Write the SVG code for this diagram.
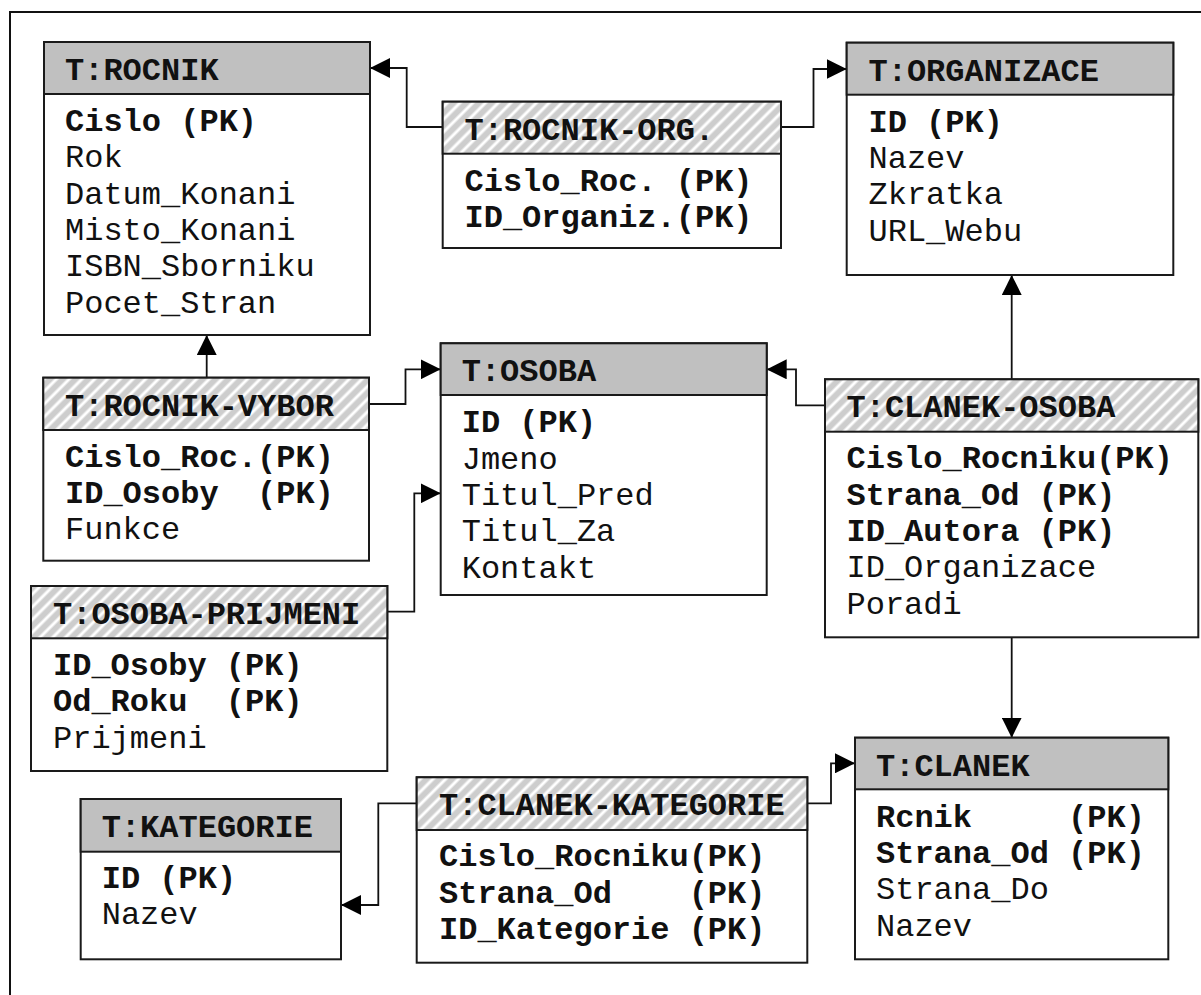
<svg xmlns="http://www.w3.org/2000/svg" width="1201" height="995" viewBox="0 0 1201 995">
<style>
.box{fill:#fff;stroke:#1a1a1a;stroke-width:2}
.hg{fill:#c0c0c0;stroke:#1a1a1a;stroke-width:2}
.hh{fill:url(#hatch);stroke:#1a1a1a;stroke-width:2}
text{font-family:"Liberation Mono","Courier New",monospace;font-size:32px;fill:#111;white-space:pre}
.b{font-weight:bold}
.c{fill:none;stroke:#111;stroke-width:1.8;marker-end:url(#arr)}
</style>
<defs>
<pattern id="hatch" patternUnits="userSpaceOnUse" width="9" height="9" patternTransform="rotate(45)">
<rect width="9" height="9" fill="#cdcdcd"/>
<line x1="2" y1="0" x2="2" y2="9" stroke="#fff" stroke-width="3"/>
</pattern>
<marker id="arr" markerUnits="userSpaceOnUse" markerWidth="20" markerHeight="20" refX="20" refY="10" orient="auto">
<path d="M0,0 L20,10 L0,20 z" fill="#000"/>
</marker>
</defs>
<rect width="1201" height="995" fill="#fff"/>
<path d="M10,995 V12 H1201" fill="none" stroke="#111" stroke-width="2"/>

<g id="connectors">
<path class="c" d="M442.7,127 H406.7 V68 H370"/>
<path class="c" d="M781,127 H813.5 V69 H846.7"/>
<path class="c" d="M206.7,377.7 V335"/>
<path class="c" d="M369,404 H405.5 V369.3 H440.7"/>
<path class="c" d="M387.3,611.7 H414.3 V493.3 H440.7"/>
<path class="c" d="M825,405.3 H796 V369.3 H766.7"/>
<path class="c" d="M1011.7,379.3 V275"/>
<path class="c" d="M1011.7,637.3 V737.7"/>
<path class="c" d="M807.3,803.3 H831 V763.3 H855"/>
<path class="c" d="M416.7,803.3 H378.3 V905 H341"/>
</g>

<g id="rocnik">
<rect class="box" x="44" y="42" width="326" height="293"/>
<rect class="hg" x="44" y="42" width="326" height="52"/>
<text class="b" x="65" y="80">T:ROCNIK</text>
<text class="b" x="65" y="131">Cislo (PK)</text>
<text x="65" y="167.3">Rok</text>
<text x="65" y="203.6">Datum_Konani</text>
<text x="65" y="239.9">Misto_Konani</text>
<text x="65" y="276.2">ISBN_Sborniku</text>
<text x="65" y="312.5">Pocet_Stran</text>
</g>

<g id="rocnik-org">
<rect class="box" x="442.7" y="101.7" width="338.3" height="146.3"/>
<rect class="hh" x="442.7" y="101.7" width="338.3" height="52"/>
<text class="b" x="464.5" y="139.7">T:ROCNIK-ORG.</text>
<text class="b" x="464.5" y="190.7">Cislo_Roc. (PK)</text>
<text class="b" x="464.5" y="227">ID_Organiz.(PK)</text>
</g>

<g id="organizace">
<rect class="box" x="846.7" y="42.7" width="326.6" height="232.3"/>
<rect class="hg" x="846.7" y="42.7" width="326.6" height="52"/>
<text class="b" x="868.5" y="80.7">T:ORGANIZACE</text>
<text class="b" x="868.5" y="131.7">ID (PK)</text>
<text x="868.5" y="168">Nazev</text>
<text x="868.5" y="204.3">Zkratka</text>
<text x="868.5" y="240.6">URL_Webu</text>
</g>

<g id="rocnik-vybor">
<rect class="box" x="43.3" y="377.7" width="325.7" height="183"/>
<rect class="hh" x="43.3" y="377.7" width="325.7" height="52.3"/>
<text class="b" x="65" y="415.7">T:ROCNIK-VYBOR</text>
<text class="b" x="65" y="466.7">Cislo_Roc.(PK)</text>
<text class="b" x="65" y="503">ID_Osoby  (PK)</text>
<text x="65" y="539.3">Funkce</text>
</g>

<g id="osoba">
<rect class="box" x="440.7" y="343.3" width="326" height="251.7"/>
<rect class="hg" x="440.7" y="343.3" width="326" height="51.7"/>
<text class="b" x="461.7" y="381.3">T:OSOBA</text>
<text class="b" x="461.7" y="432.3">ID (PK)</text>
<text x="461.7" y="468.6">Jmeno</text>
<text x="461.7" y="504.9">Titul_Pred</text>
<text x="461.7" y="541.2">Titul_Za</text>
<text x="461.7" y="577.5">Kontakt</text>
</g>

<g id="osoba-prijmeni">
<rect class="box" x="31" y="586" width="356.3" height="185"/>
<rect class="hh" x="31" y="586" width="356.3" height="52.3"/>
<text class="b" x="53" y="624">T:OSOBA-PRIJMENI</text>
<text class="b" x="53" y="675">ID_Osoby (PK)</text>
<text class="b" x="53" y="711.3">Od_Roku  (PK)</text>
<text x="53" y="747.6">Prijmeni</text>
</g>

<g id="clanek-osoba">
<rect class="box" x="825" y="379.3" width="373.3" height="258"/>
<rect class="hh" x="825" y="379.3" width="373.3" height="52.4"/>
<text class="b" x="846.5" y="417.3">T:CLANEK-OSOBA</text>
<text class="b" x="846.5" y="468.3">Cislo_Rocniku(PK)</text>
<text class="b" x="846.5" y="504.6">Strana_Od (PK)</text>
<text class="b" x="846.5" y="540.9">ID_Autora (PK)</text>
<text x="846.5" y="577.2">ID_Organizace</text>
<text x="846.5" y="613.5">Poradi</text>
</g>

<g id="clanek">
<rect class="box" x="855" y="737.7" width="313.3" height="221.6"/>
<rect class="hg" x="855" y="737.7" width="313.3" height="51.6"/>
<text class="b" x="876" y="775.7">T:CLANEK</text>
<text class="b" x="876" y="826.7">Rcnik     (PK)</text>
<text class="b" x="876" y="863">Strana_Od (PK)</text>
<text x="876" y="899.3">Strana_Do</text>
<text x="876" y="935.6">Nazev</text>
</g>

<g id="clanek-kategorie">
<rect class="box" x="416.7" y="777.3" width="390.6" height="185.4"/>
<rect class="hh" x="416.7" y="777.3" width="390.6" height="52.7"/>
<text class="b" x="439" y="815.3">T:CLANEK-KATEGORIE</text>
<text class="b" x="439" y="866.3">Cislo_Rocniku(PK)</text>
<text class="b" x="439" y="902.6">Strana_Od    (PK)</text>
<text class="b" x="439" y="938.9">ID_Kategorie (PK)</text>
</g>

<g id="kategorie">
<rect class="box" x="80.7" y="799" width="260.3" height="160.3"/>
<rect class="hg" x="80.7" y="799" width="260.3" height="52.7"/>
<text class="b" x="101.7" y="837">T:KATEGORIE</text>
<text class="b" x="101.7" y="888">ID (PK)</text>
<text x="101.7" y="924.3">Nazev</text>
</g>
</svg>
